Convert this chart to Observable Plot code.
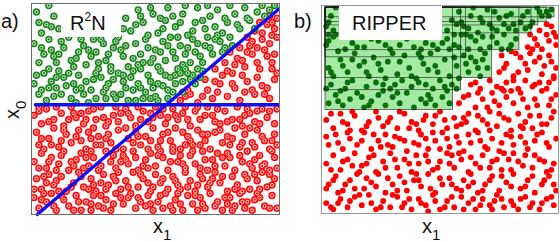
<!DOCTYPE html>
<html><head><meta charset="utf-8">
<script src="https://cdn.jsdelivr.net/npm/d3@7"></script>
<script src="https://cdn.jsdelivr.net/npm/@observablehq/plot@0.6"></script>
<style>
body{margin:0;background:#fff;}
#wrap{position:relative;width:560px;height:242px;overflow:hidden;font-family:"Liberation Sans",Arial,sans-serif;}
#pa,#pb,#ov{position:absolute;top:0;}
#pa{left:0}#pb{left:280px}#ov{left:0}
</style></head><body>
<div id="wrap"><div id="pa"></div><div id="pb"></div><div id="ov"></div></div>
<script>
// ---- panel a (R2N): point pairs x,y on a 0..100 scale ----
const greenA = [
2,96, 6,90, 4,86, 9,94, 11,88, 7,99, 38,93, 40,87, 43,97, 45,91, 49,95, 51,86, 54,92, 55,98, 58,89, 61,95, 63,85, 66,91, 67,98, 70,88, 72,94, 75,97, 77,86, 79,91, 82,95, 84,88, 86,98, 88,92, 91,96, 93,99, 96,97, 47,85, 57,94, 69,92, 74,89, 62,99, 42,90, 87,93, 80,99, 53,88,
1,81, 5,76, 7,83, 10,72, 13,79, 15,84, 18,74, 21,80, 22,71, 26,77, 28,83, 30,73, 33,79, 35,84, 37,75, 39,70, 42,81, 44,76, 46,83, 48,72, 50,78, 53,82, 54,73, 57,77, 59,84, 61,71, 63,79, 65,83, 68,75, 70,80, 71,84, 73,76, 76,82, 78,79, 80,84, 3,72, 8,78, 12,82, 17,70, 24,75, 29,81, 32,70, 36,78, 41,74, 45,72, 51,70, 55,80, 58,74, 62,76, 67,81, 19,77, 25,83, 47,79, 64,72, 74,83, 9,75,
2,66, 4,59, 6,54, 8,63, 11,68, 12,57, 14,61, 16,55, 19,66, 20,60, 23,53, 25,64, 27,69, 29,58, 31,62, 34,55, 35,67, 38,60, 40,65, 42,54, 44,69, 46,58, 48,63, 50,56, 52,68, 53,61, 56,65, 57,58, 59,69, 61,63, 63,67, 65,66, 67,69, 69,68, 1,62, 5,67, 9,56, 13,65, 17,62, 21,57, 24,59, 28,65, 32,68, 36,57, 39,54, 43,62, 47,66, 49,60, 51,54, 54,66, 58,62, 60,67, 10,60, 18,53, 26,55, 33,64, 37,63, 41,59, 45,55, 55,59, 62,69, 7,69, 30,55,
3,91, 8,89, 37,88, 44,94, 48,98, 52,93, 60,91, 65,87, 71,99, 78,93, 83,90, 90,88, 94,94, 98,99,
4,79, 11,76, 16,73, 20,83, 23,78, 27,72, 31,76, 34,82, 38,80, 43,71, 49,74, 52,77, 56,84, 60,80, 66,77, 69,72, 72,79, 75,85, 77,77, 81,80,
3,57, 7,60, 10,65, 15,67, 18,59, 22,63, 26,67, 30,60, 33,57, 37,66, 41,68, 44,60, 48,55, 51,62, 55,55, 58,66, 61,58, 64,64, 66,62, 68,65
];
const redA = [
60,54, 64,57, 67,53, 71,59, 73,55, 76,62, 79,56, 82,60, 84,54, 87,63, 90,57, 93,61, 96,55, 98,64, 70,64, 75,58, 86,58, 91,65, 95,60, 62,56, 77,66,
74,69, 78,72, 81,67, 83,74, 86,70, 89,76, 92,69, 94,78, 97,72, 99,67, 80,77, 88,80, 85,73, 91,72, 96,81, 84,79, 98,76,
87,84, 90,87, 93,83, 95,90, 97,85, 99,93, 92,91, 89,82, 96,94, 98,88,
1,47, 4,43, 6,50, 9,45, 12,48, 13,42, 16,51, 18,46, 21,43, 23,49, 26,45, 28,51, 30,42, 33,47, 35,44, 38,50, 40,46, 42,42, 45,49, 47,44, 50,51, 52,47, 54,43, 57,50, 59,45, 61,48, 64,42, 66,49, 68,45, 71,51, 73,47, 76,43, 78,49, 81,45, 83,51, 85,42, 88,48, 90,44, 93,50, 95,46, 98,43, 3,51, 20,48, 36,48, 55,46, 74,44, 91,49, 15,45, 43,51, 62,51, 86,47, 99,50, 29,46, 48,48,
2,39, 3,33, 7,36, 9,41, 11,32, 14,38, 16,34, 19,40, 22,31, 24,36, 25,41, 28,33, 31,38, 32,34, 35,40, 37,31, 39,36, 42,39, 44,33, 46,37, 49,41, 51,32, 53,38, 56,35, 58,41, 60,31, 63,37, 65,33, 67,40, 70,35, 72,31, 74,39, 77,34, 79,37, 82,41, 84,32, 86,38, 89,34, 91,40, 94,35, 96,31, 98,38, 5,31, 20,35, 27,37, 41,34, 55,39, 62,33, 69,38, 80,33, 88,41, 97,35, 12,35, 48,35,
1,25, 4,29, 6,22, 8,27, 11,24, 13,30, 15,21, 18,26, 20,29, 23,23, 25,27, 27,21, 30,30, 32,25, 34,22, 37,28, 39,24, 41,30, 43,21, 46,26, 48,29, 50,23, 53,27, 55,21, 57,30, 59,25, 62,22, 64,28, 66,24, 69,30, 71,21, 73,26, 75,29, 78,23, 80,27, 82,21, 85,25, 87,30, 89,22, 92,28, 94,24, 97,30, 99,22, 10,21, 22,27, 36,25, 45,23, 60,28, 68,22, 77,27, 90,26, 96,21, 17,23, 52,30,
2,17, 4,12, 7,19, 9,14, 12,18, 14,11, 17,15, 19,20, 21,13, 24,17, 26,11, 29,19, 31,14, 33,18, 36,12, 38,16, 41,20, 43,13, 45,17, 48,11, 50,19, 52,15, 55,12, 57,18, 59,14, 62,20, 64,16, 66,11, 69,17, 71,13, 74,20, 76,15, 79,11, 81,18, 83,14, 86,19, 88,12, 91,16, 93,20, 95,13, 98,17, 6,15, 23,12, 35,20, 47,15, 60,12, 73,17, 85,11, 97,14, 11,11, 28,15, 67,14, 90,19,
1,8, 3,3, 6,6, 8,10, 10,2, 13,7, 15,4, 18,9, 20,2, 22,6, 25,9, 27,4, 30,7, 32,2, 34,10, 37,5, 39,8, 42,3, 44,6, 47,9, 49,2, 51,6, 54,10, 56,4, 58,7, 61,2, 63,9, 65,5, 68,8, 70,3, 72,10, 75,6, 77,2, 80,8, 82,4, 84,10, 87,6, 89,2, 92,8, 94,4, 97,9, 99,3, 5,10, 17,2, 29,3, 40,10, 53,3, 67,2, 79,5, 91,10, 24,5, 59,10, 86,3, 46,4,
63,59, 69,56, 74,63, 81,62, 85,66, 89,59, 94,57, 97,69, 82,71, 87,77, 91,79, 95,75, 93,86, 97,91, 99,84, 79,68,
3,49, 7,44, 10,51, 17,48, 22,45, 25,50, 31,44, 34,51, 39,48, 44,45, 49,46, 53,50, 58,47, 63,45, 67,51, 70,47, 75,50, 79,44, 84,45, 87,50, 92,43, 96,49,
4,36, 8,33, 13,40, 18,37, 23,39, 26,33, 30,36, 34,31, 38,41, 43,37, 47,31, 52,35, 57,32, 61,39, 64,35, 68,33, 71,38, 76,40, 81,36, 85,34, 90,32, 93,37, 99,33,
3,22, 7,25, 12,28, 16,25, 21,22, 24,30, 28,23, 33,28, 38,26, 42,27, 47,22, 51,28, 56,25, 61,24, 65,30, 70,26, 74,23, 79,29, 84,28, 88,24, 93,23, 98,27,
1,12, 5,18, 10,16, 16,13, 20,18, 25,14, 30,12, 34,16, 39,13, 44,19, 49,13, 53,17, 58,16, 63,13, 68,19, 72,15, 77,18, 82,12, 87,17, 92,12, 96,19,
4,7, 9,4, 12,9, 19,6, 24,2, 28,9, 33,5, 36,8, 43,8, 48,5, 52,9, 57,2, 60,5, 66,9, 69,5, 74,4, 78,8, 81,2, 85,6, 90,7, 96,3
];
// the two R2N split lines (x,y)
const splitH = [[1.6, 52], [100, 52]];
const splitD = [[2.3, 0], [100, 97.6]];

// ---- panel b (RIPPER) ----
const greenB = [
3,53, 6,57, 9,52, 12,55, 15,58, 18,51, 21,54, 24,57, 27,52, 30,56, 33,53, 36,58, 39,51, 42,55, 45,57, 48,52, 51,56, 53,59, 8,59, 26,59, 44,53, 17,56,
4,62, 10,60, 13,64, 19,61, 23,63, 29,60, 34,64, 38,61, 41,63, 47,60, 50,64, 55,62, 57,60, 2,60, 31,62,
3,70, 5,66, 8,74, 11,68, 14,77, 16,71, 20,66, 22,75, 25,69, 28,73, 32,67, 35,76, 37,70, 40,65, 43,72, 46,77, 49,68, 52,74, 54,66, 57,71, 60,76, 62,68, 65,73, 67,66, 69,77, 70,70, 18,73, 30,77, 45,69, 58,65, 63,75, 7,78, 41,77, 27,65,
2,81, 5,85, 10,79, 13,82, 18,80, 24,83, 29,79, 33,81, 39,80, 44,82, 49,79, 53,84, 56,81, 59,86, 62,79, 65,83, 68,85, 71,80, 74,82, 77,86, 79,79, 82,84, 3,86, 54,79, 47,81, 63,85,
2,90, 4,95, 6,99, 53,88, 55,93, 58,97, 60,90, 63,95, 66,87, 68,92, 70,98, 72,89, 75,94, 77,91, 80,96, 82,88, 84,92, 86,89, 87,97, 89,92, 91,99, 93,95, 95,97, 97,98, 57,91, 64,99, 73,97, 79,89, 61,86, 5,88,
7,54, 20,52, 32,58, 46,55, 54,53, 11,63, 26,62, 44,62, 52,61, 4,68, 9,71, 13,74, 19,68, 24,72, 33,73, 38,66, 42,75, 48,71, 56,75, 61,72, 66,70, 68,74, 15,80, 21,84, 27,81, 36,84, 42,79, 51,82, 58,80, 67,79, 72,85, 76,79, 80,81, 3,83, 56,86, 59,92, 62,89, 67,94, 71,91, 74,88, 78,95, 81,91, 85,95, 88,90, 92,97, 96,95, 3,92, 6,86
];
const redB = [
58,53, 62,57, 65,51, 68,55, 72,58, 75,52, 78,56, 81,53, 84,58, 87,51, 90,55, 93,59, 96,52, 99,57, 70,51, 80,59,
63,62, 67,60, 71,64, 74,61, 78,63, 83,60, 86,64, 89,61, 92,63, 95,60, 98,65,
75,68, 78,72, 81,66, 84,75, 87,69, 90,73, 93,67, 96,76, 99,70, 80,78, 88,77, 94,71, 76,76, 98,66,
87,80, 90,84, 93,79, 96,83, 99,81, 88,86, 92,88, 95,91, 98,87, 97,90,
2,45, 5,41, 8,48, 11,43, 14,47, 17,40, 20,44, 23,49, 26,42, 29,46, 32,41, 35,48, 38,44, 41,40, 44,47, 47,43, 50,49, 53,41, 56,46, 59,43, 62,48, 65,40, 68,45, 71,49, 74,42, 77,46, 80,40, 83,48, 86,44, 89,41, 92,47, 95,43, 98,49, 12,40, 37,41, 60,46, 85,41,
3,33, 6,38, 9,31, 12,36, 15,33, 18,39, 21,31, 24,35, 27,38, 30,32, 33,36, 36,30, 39,34, 42,38, 45,31, 48,35, 51,39, 54,32, 57,37, 60,30, 63,34, 66,39, 69,32, 72,36, 75,30, 78,38, 81,33, 84,37, 87,31, 90,35, 93,39, 96,32, 99,36, 47,39, 71,40, 25,32,
2,24, 5,28, 8,21, 11,26, 14,29, 17,23, 20,27, 23,20, 26,25, 29,29, 32,22, 35,26, 38,20, 41,24, 44,28, 47,21, 50,25, 53,29, 56,22, 59,26, 62,20, 65,24, 68,28, 71,22, 74,26, 77,29, 80,21, 83,25, 86,28, 89,22, 92,26, 95,20, 98,24, 16,20, 55,28, 81,29,
3,14, 6,18, 9,11, 12,16, 15,19, 18,12, 21,15, 24,19, 27,10, 30,14, 33,18, 36,11, 39,16, 42,13, 45,19, 48,10, 51,14, 54,17, 57,12, 60,16, 63,19, 66,10, 69,14, 72,18, 75,11, 78,15, 81,19, 84,12, 87,16, 90,10, 93,14, 96,18, 99,11, 62,13, 40,19, 7,10,
2,5, 5,2, 8,7, 11,3, 14,8, 17,4, 20,9, 23,2, 26,6, 29,3, 32,8, 35,5, 38,2, 41,7, 44,4, 47,9, 50,2, 53,6, 56,3, 59,8, 62,5, 65,2, 68,7, 71,4, 74,9, 77,3, 80,6, 83,2, 86,8, 89,5, 92,2, 95,7, 98,4, 73,6, 45,1,
60,56, 66,58, 73,54, 77,59, 85,55, 91,52, 97,55, 65,63, 76,60, 81,64, 90,62, 96,63, 77,70, 83,68, 86,72, 92,75, 97,73, 82,77, 91,81, 95,86, 99,85, 89,79,
4,48, 9,44, 13,49, 19,42, 24,46, 28,44, 33,49, 40,43, 43,45, 48,47, 52,45, 57,42, 61,44, 66,47, 70,43, 75,48, 79,45, 84,42, 88,47, 93,43, 97,46,
2,37, 7,34, 11,39, 17,35, 22,38, 28,33, 31,37, 35,35, 41,33, 44,36, 50,31, 53,36, 58,34, 62,38, 67,35, 70,31, 76,34, 80,37, 86,34, 91,38, 95,34,
4,21, 9,25, 13,23, 19,24, 22,28, 27,22, 31,26, 37,24, 40,28, 45,25, 49,22, 54,24, 58,29, 63,27, 67,22, 72,25, 76,21, 79,26, 85,23, 90,28, 94,25, 97,21,
2,12, 5,16, 10,14, 14,12, 19,17, 23,13, 28,17, 32,11, 35,15, 41,16, 46,12, 50,17, 55,14, 59,11, 64,15, 68,11, 71,16, 76,18, 80,13, 86,13, 89,18, 94,16, 98,14,
4,3, 7,5, 12,6, 16,9, 21,5, 25,3, 30,9, 34,3, 37,7, 42,5, 48,6, 52,3, 55,8, 60,2, 64,7, 67,4, 72,2, 76,7, 81,4, 84,7, 88,3, 93,5, 97,8
];
// RIPPER rules: each covers x from ruleLeft to ruleRight[i], y from ruleBottom[i] to ruleTop
const ruleLeft = 1.7, ruleTop = 99;
const ruleRight  = [55.5, 58.9, 72.0, 61.0, 83.5, 88.6, 91.5, 98.3, 95.0];
const ruleBottom = [49.8, 59.3, 65.1, 75.1, 78.5, 86.6, 90.4, 94.3, 92.0];

// texts
const panelTags = ["a)", "b)"];
const methodA = ["R", "2", "N"];
const methodB = "RIPPER";
const axisX = ["x", "1"], axisY = ["x", "0"];

const pts = a => d3.range(0, a.length, 2).map(i => ({x: a[i], y: a[i + 1]}));
const P = d => d[0], Q = d => d[1];
const scales = {x: {domain: [0, 100], axis: null}, y: {domain: [0, 100], axis: null}};

const ringDots = (arr, color) => [
  Plot.dot(pts(arr), {x: "x", y: "y", r: 3.7, fill: color, clip: true}),
  Plot.dot(pts(arr), {x: "x", y: "y", r: 1.6, stroke: "#fff", strokeWidth: 0.8, fill: "none", clip: true})
];

const A = Plot.plot({
  width: 280, height: 242, marginLeft: 31, marginRight: 1, marginTop: 3, marginBottom: 28,
  ...scales,
  marks: [
    ...ringDots(redA, "#ff0d0d"),
    ...ringDots(greenA, "#1c871c"),
    Plot.line(splitH, {x: P, y: Q, stroke: "#1010f5", strokeWidth: 3.4}),
    Plot.line(splitD, {x: P, y: Q, stroke: "#1010f5", strokeWidth: 3.4}),
    Plot.frame({stroke: "#6e6e6e"})
  ]
});
document.getElementById("pa").appendChild(A);

const rules = ruleRight.map((r, i) => ({x1: ruleLeft, x2: r, y1: ruleBottom[i], y2: ruleTop}));
const B = Plot.plot({
  width: 280, height: 242, marginLeft: 41, marginRight: 2, marginTop: 5, marginBottom: 29,
  ...scales,
  marks: [
    Plot.rect(rules, {x1: "x1", x2: "x2", y1: "y1", y2: "y2", fill: "#a4eaa4"}),
    Plot.dot(pts(redB), {x: "x", y: "y", r: 2.9, fill: "#ff0000", clip: true}),
    Plot.dot(pts(greenB), {x: "x", y: "y", r: 2.9, fill: "#0b700b", clip: true}),
    Plot.rect(rules, {x1: "x1", x2: "x2", y1: "y1", y2: "y2", fill: "none", stroke: "#1a1a1a", strokeWidth: 0.8, strokeOpacity: 0.75}),
    Plot.frame({stroke: "#9a9a9a"})
  ]
});
document.getElementById("pb").appendChild(B);

// annotation layer (labels and label boxes)
const ov = d3.select("#ov").append("svg").attr("width", 560).attr("height", 242)
  .style("font-family", "'Liberation Sans', Arial, sans-serif").attr("fill", "#111");
ov.append("rect").attr("x", 61).attr("y", 4).attr("width", 60).attr("height", 33).attr("fill", "#fff");
ov.append("rect").attr("x", 339).attr("y", 6).attr("width", 103).attr("height", 34).attr("fill", "#fff");
ov.append("text").attr("x", 1).attr("y", 28).attr("font-size", 20).text(panelTags[0]);
ov.append("text").attr("x", 294).attr("y", 28).attr("font-size", 20).text(panelTags[1]);
const tA = ov.append("text").attr("x", 70).attr("y", 30).attr("font-size", 20);
tA.append("tspan").text(methodA[0]);
tA.append("tspan").attr("font-size", 12).attr("dy", -9).text(methodA[1]);
tA.append("tspan").attr("dy", 9).text(methodA[2]);
ov.append("text").attr("x", 352).attr("y", 30).attr("font-size", 20).text(methodB);
function sub(sel, main, s) {
  sel.append("tspan").text(main);
  sel.append("tspan").attr("font-size", 15).attr("dy", 7).text(s);
}
sub(ov.append("text").attr("x", 153).attr("y", 233).attr("font-size", 20), axisX[0], axisX[1]);
sub(ov.append("text").attr("x", 422).attr("y", 233).attr("font-size", 20), axisX[0], axisX[1]);
sub(ov.append("text").attr("transform", "translate(19,119) rotate(-90)").attr("font-size", 20), axisY[0], axisY[1]);
</script>
</body></html>
